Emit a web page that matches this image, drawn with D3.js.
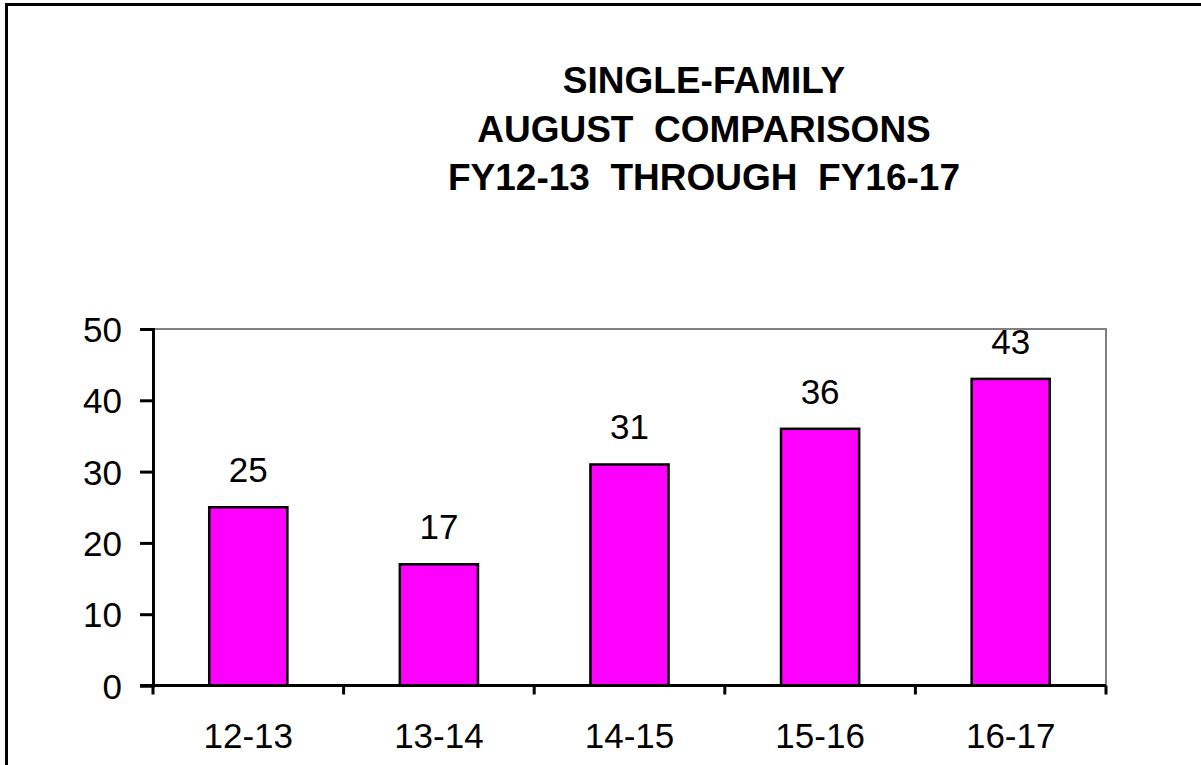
<!DOCTYPE html>
<html>
<head>
<meta charset="utf-8">
<script src="https://cdn.jsdelivr.net/npm/d3@7"></script>
<style>
  body { margin: 0; background: #fff; }
  svg { display: block; font-family: "Liberation Sans", Arial, sans-serif; }
</style>
</head>
<body>
<div id="chart"></div>
<script>
  const years = ["12-13", "13-14", "14-15", "15-16", "16-17"]
  const permits = [25, 17, 31, 36, 43]
  const yTicks = [0, 10, 20, 30, 40, 50]
  const titleLines = ["SINGLE-FAMILY", "AUGUST  COMPARISONS", "FY12-13  THROUGH  FY16-17"]

  const width = 1201
  const height = 765
  const margin = { top: 329, right: 95, bottom: 79, left: 153 }

  const svg = d3.select("#chart")
    .append("svg")
    .attr("width", width)
    .attr("height", height)

  // outer frame, runs off the right and bottom edge like the original
  svg.append("rect")
    .attr("x", 6.5).attr("y", 4.5)
    .attr("width", 1400).attr("height", 1000)
    .attr("fill", "none")
    .attr("stroke", "#000")
    .attr("stroke-width", 3)

  svg.append("g")
    .selectAll("text")
    .data(titleLines)
    .join("text")
      .attr("x", 704)
      .attr("y", (d, i) => 93 + i * 48.5)
      .attr("text-anchor", "middle")
      .attr("font-size", "37px")
      .attr("font-weight", "bold")
      .style("white-space", "pre")
      .attr("xml:space", "preserve")
      .text(d => d)

  const x = d3.scaleBand()
    .domain(years)
    .range([margin.left, width - margin.right])
    .paddingInner(0.59)
    .paddingOuter(0.295)

  const y = d3.scaleLinear()
    .domain([0, 50])
    .range([height - margin.bottom - 0.5, margin.top])

  // gray top and right edges of the plot area
  svg.append("path")
    .attr("d", `M${margin.left},${y(50)}H${width - margin.right}V${y(0)}`)
    .attr("fill", "none")
    .attr("stroke", "#808080")
    .attr("stroke-width", 2)

  svg.append("g")
    .selectAll("rect")
    .data(permits)
    .join("rect")
      .attr("x", (d, i) => x(years[i]))
      .attr("y", d => y(d))
      .attr("width", x.bandwidth())
      .attr("height", d => y(0) - y(d))
      .attr("fill", "#ff00ff")
      .attr("stroke", "#000")
      .attr("stroke-width", 2.5)

  svg.append("g")
    .selectAll("text")
    .data(permits)
    .join("text")
      .attr("x", (d, i) => x(years[i]) + x.bandwidth() / 2)
      .attr("y", d => y(d) - 25)
      .attr("text-anchor", "middle")
      .attr("font-size", "35px")
      .text(d => d)

  function yAxis(g) {
    g.attr("transform", `translate(${margin.left},0)`)
      .call(d3.axisLeft(y).tickValues(yTicks).tickSize(13).tickPadding(18))
      .call(g => g.select(".domain").attr("stroke-width", 3))
      .call(g => g.selectAll(".tick line").attr("stroke-width", 3))
      .call(g => g.selectAll(".tick text")
        .attr("font-size", "35px")
        .attr("fill", "#000")
        .attr("dy", "0.36em"))
      .attr("font-family", null)
  }

  // x ticks sit on the category boundaries, labels centred under the bars
  const bounds = d3.range(years.length + 1).map(i => margin.left + i * x.step())

  function xAxis(g) {
    g.attr("transform", `translate(0,${y(0)})`)
    g.append("line")
      .attr("x1", margin.left - 13).attr("x2", width - margin.right)
      .attr("stroke", "#000").attr("stroke-width", 3)
    g.selectAll(".tk")
      .data(bounds)
      .join("line")
        .attr("class", "tk")
        .attr("x1", d => d).attr("x2", d => d)
        .attr("y1", 0).attr("y2", 9)
        .attr("stroke", "#000").attr("stroke-width", 3)
    g.selectAll(".lbl")
      .data(years)
      .join("text")
        .attr("class", "lbl")
        .attr("x", d => x(d) + x.bandwidth() / 2)
        .attr("y", 62)
        .attr("text-anchor", "middle")
        .attr("font-size", "35px")
        .text(d => d)
  }

  svg.append("g").call(yAxis)
  svg.append("g").call(xAxis)
</script>
</body>
</html>
